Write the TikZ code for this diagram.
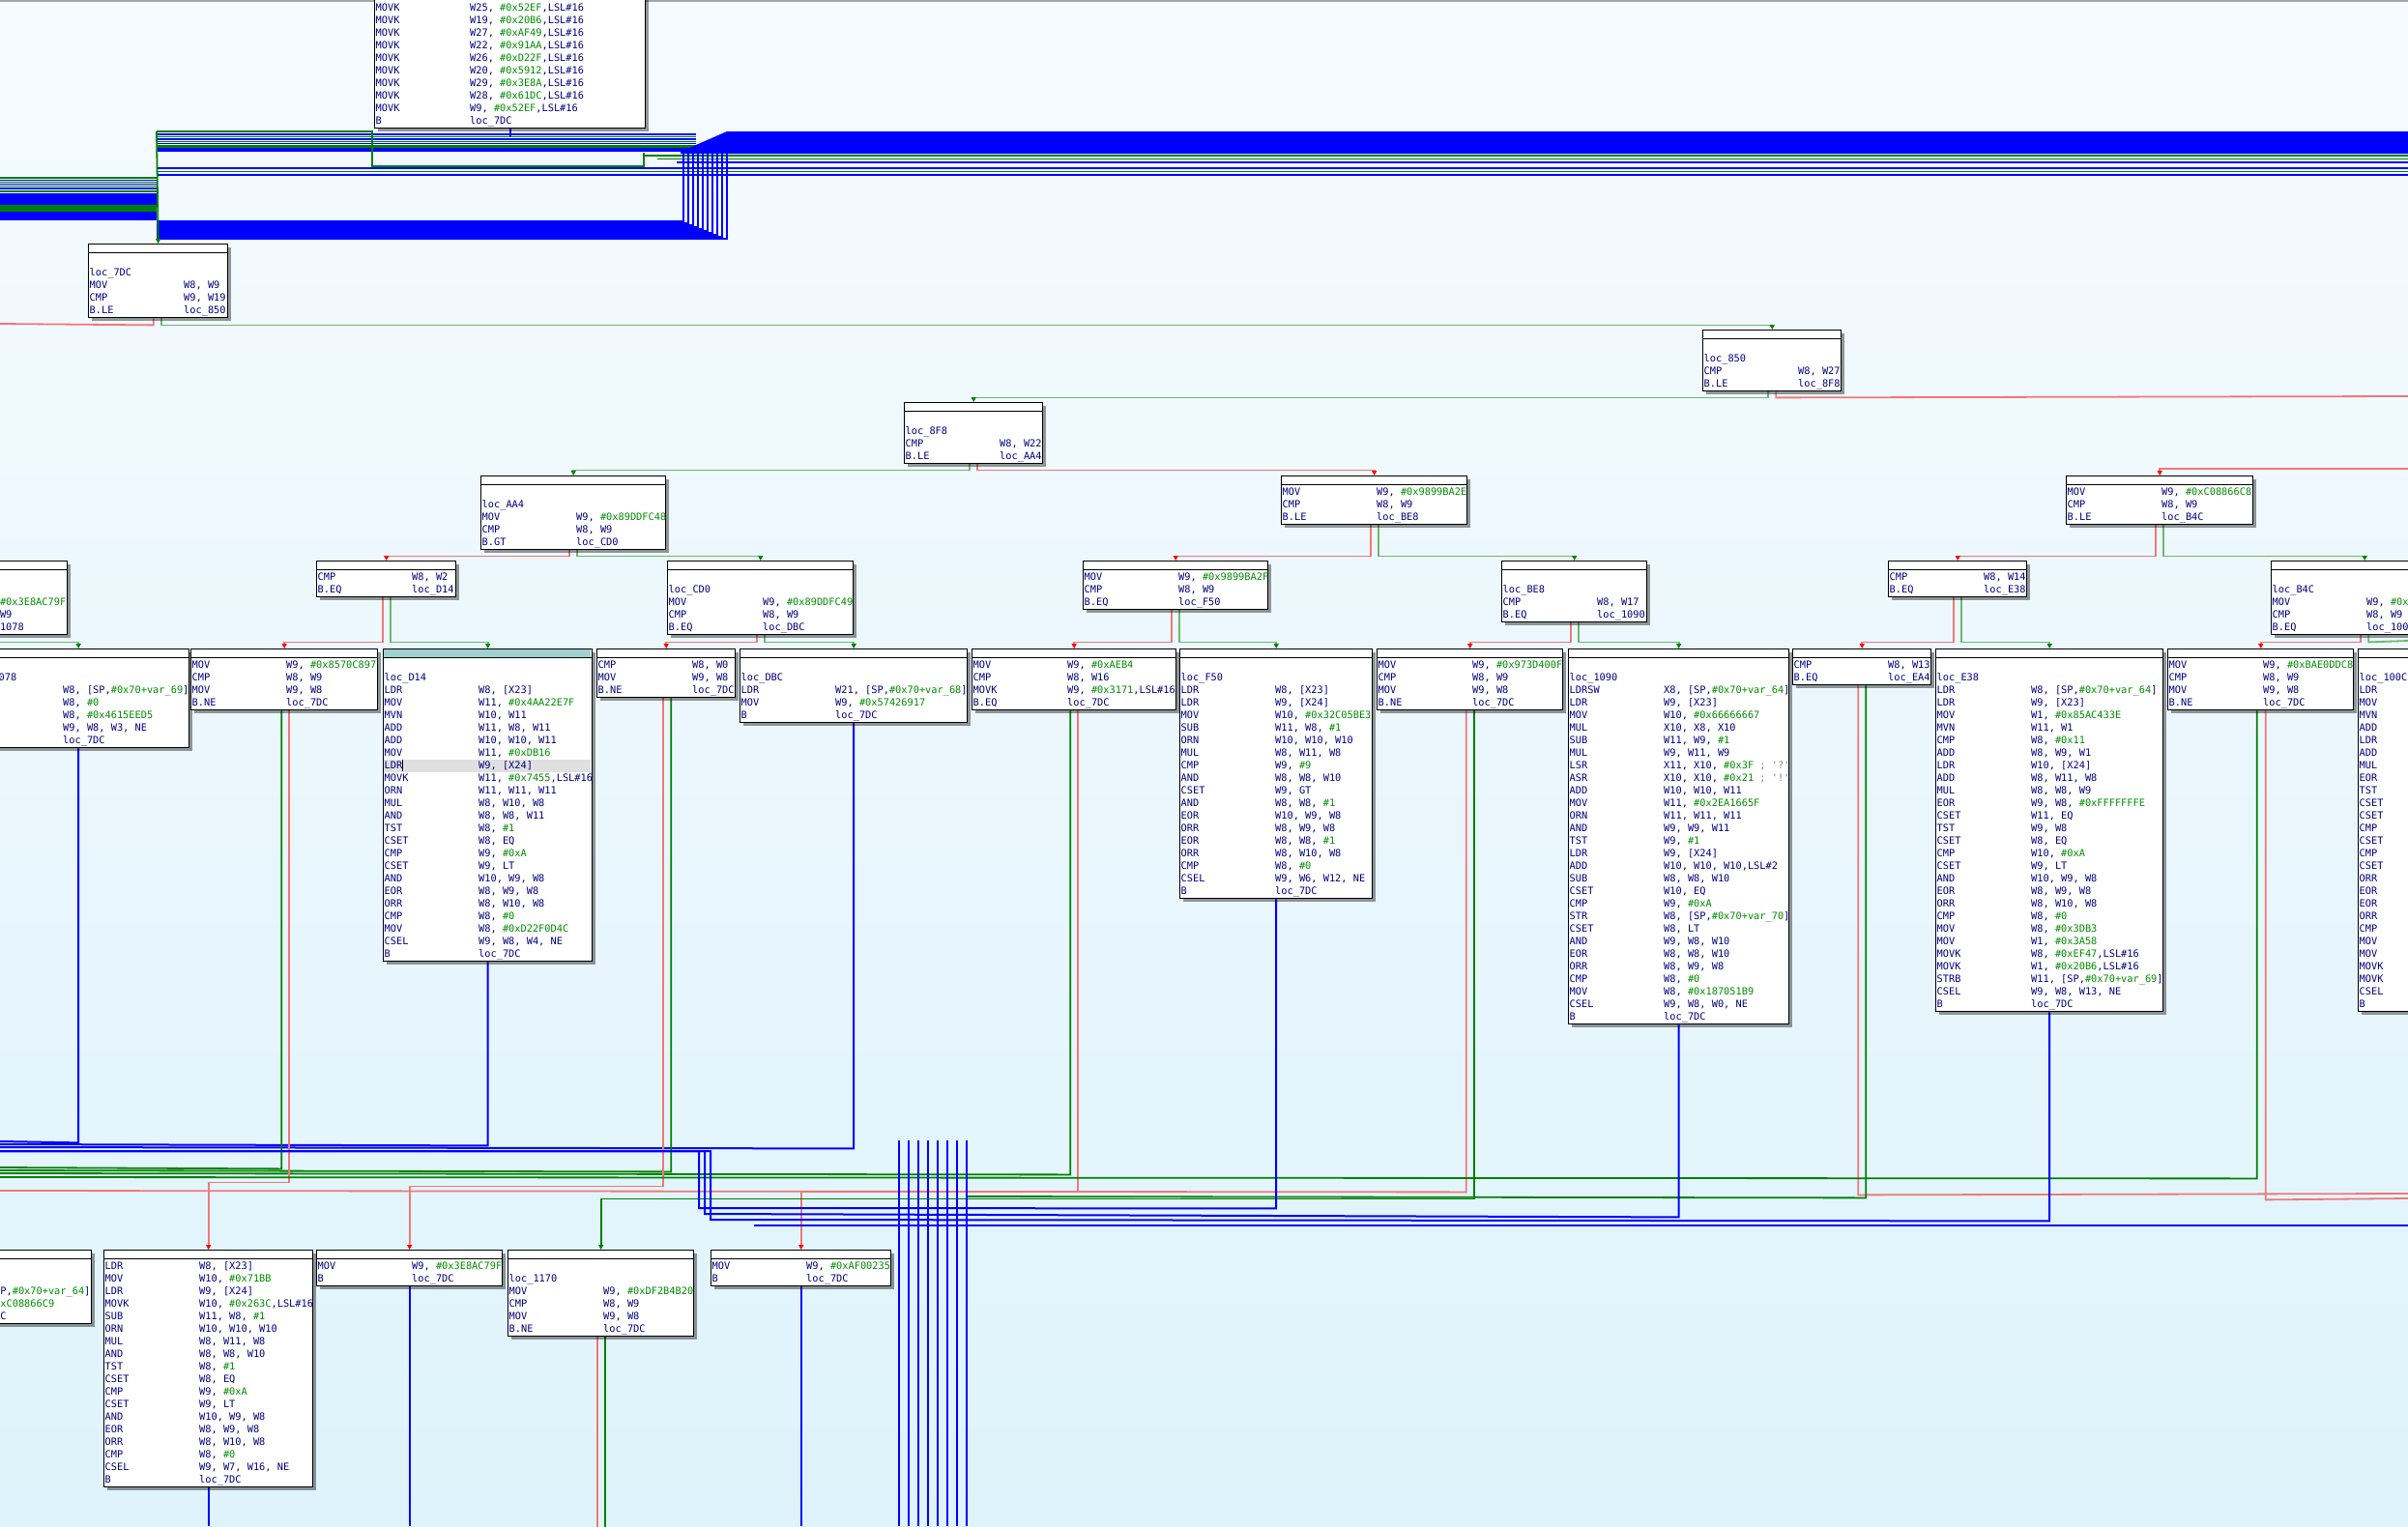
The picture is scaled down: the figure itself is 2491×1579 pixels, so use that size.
\documentclass[tikz,border=0pt]{standalone}
\usepackage{fontspec}
\setmonofont{DejaVu Sans Mono}
\usetikzlibrary{calc,shadows,arrows.meta}
\definecolor{ins}{RGB}{0,0,128}
\definecolor{imm}{RGB}{0,140,0}
\definecolor{cmt}{RGB}{128,128,128}
\definecolor{eR}{RGB}{240,120,120}
\definecolor{eG}{RGB}{0,128,0}
\definecolor{eGl}{RGB}{110,185,110}
\definecolor{eB}{RGB}{0,0,255}
\definecolor{bgTop}{RGB}{246,251,255}
\definecolor{bgBot}{RGB}{222,243,251}
\definecolor{hdrSel}{RGB}{160,208,208}
\newcommand\im[1]{\textcolor{imm}{#1}}
\newcommand\cm[1]{\textcolor{cmt}{#1}}
\newcommand\qq{\char"27\relax}
\pgfdeclarelayer{bglayer}\pgfdeclarelayer{edgelayer}
\pgfsetlayers{bglayer,edgelayer,main}
\tikzset{
 blk/.style={draw=black,line width=1.4pt,fill=white,inner sep=0pt,anchor=north west,
   drop shadow={shadow xshift=3pt,shadow yshift=-3pt,opacity=0.4,fill=black}},
 txt/.style={anchor=north west,inner sep=0pt,text=ins,font=\ttfamily\fontsize{10.3}{13}\selectfont},
 er/.style={draw=eR,line width=1.8pt},
 eg/.style={draw=eG,line width=1.8pt},
 egl/.style={draw=eGl,line width=1.8pt},
 eb/.style={draw=eB,line width=2pt},
 tr/.style={-{Triangle[length=5pt,width=5pt,color=red]}},
 tg/.style={-{Triangle[length=5pt,width=5pt,color=eG]}},
}
% #1 = extra drawing between box and text, #2 name, #3 x, #4 y, #5 width, #6 height, #7 rows
\newcommand\blk[7][]{%
 \node[blk,minimum width=#5pt,minimum height=#6pt] (#2) at (#3,#4) {};
 #1
 \draw[line width=0.8pt] ([yshift=-9pt]#2.north west) -- ([yshift=-9pt]#2.north east);
 \node[txt] (#2t) at ({#3+1.5},{#4+11.5}) {\begin{tabular}{@{}p{97.5pt}@{}l@{}}#7\end{tabular}};
}
\begin{document}
\begin{tikzpicture}[x=1pt,y=-1pt]
\useasboundingbox (0,0) rectangle (2491,1579);
\begin{pgfonlayer}{bglayer}
\shade[top color=bgTop,bottom color=bgBot] (0,0) rectangle (2491,1579);
\draw[gray!70,line width=2pt] (0,1) -- (2491,1);
\end{pgfonlayer}

% ---------------- blocks ----------------
\node[blk,minimum width=280pt,minimum height=232pt] (btop) at (387,-100) {};
\node[txt] (btopt) at (388.5,2.5) {\begin{tabular}{@{}p{97.5pt}@{}l@{}}
MOVK & W25, \im{\#0x52EF},LSL\#16\\ MOVK & W19, \im{\#0x20B6},LSL\#16\\ MOVK & W27, \im{\#0xAF49},LSL\#16\\
MOVK & W22, \im{\#0x91AA},LSL\#16\\ MOVK & W26, \im{\#0xD22F},LSL\#16\\ MOVK & W20, \im{\#0x5912},LSL\#16\\
MOVK & W29, \im{\#0x3E8A},LSL\#16\\ MOVK & W28, \im{\#0x61DC},LSL\#16\\ MOVK & W9, \im{\#0x52EF},LSL\#16\\ B & loc\_7DC
\end{tabular}};

\blk{b7DC}{91}{252}{144}{76}{ & \\ loc\_7DC & \\ MOV & W8, W9\\ CMP & W9, W19\\ B.LE & loc\_850}
\blk{b850}{1761}{341}{143}{63}{ & \\ loc\_850 & \\ CMP & W8, W27\\ B.LE & loc\_8F8}
\blk{b8F8}{935}{416}{143}{63}{ & \\ loc\_8F8 & \\ CMP & W8, W22\\ B.LE & loc\_AA4}
\blk{bAA4}{497}{492}{191}{76}{ & \\ loc\_AA4 & \\ MOV & W9, \im{\#0x89DDFC48}\\ CMP & W8, W9\\ B.GT & loc\_CD0}
\blk{b9899E}{1325}{492}{192}{50}{MOV & W9, \im{\#0x9899BA2E}\\ CMP & W8, W9\\ B.LE & loc\_BE8}
\blk{bC088}{2137}{492}{193}{50}{MOV & W9, \im{\#0xC08866C8}\\ CMP & W8, W9\\ B.LE & loc\_B4C}

\blk{bL3}{-124}{580}{193}{76}{ & \\ & \\ MOV & W9, \im{\#0x3E8AC79F}\\ CMP & W8, W9\\ B.EQ & loc\_1078}
\blk{bCMPW2}{327}{580}{144}{37}{CMP & W8, W2\\ B.EQ & loc\_D14}
\blk{bCD0}{690}{580}{192}{76}{ & \\ loc\_CD0 & \\ MOV & W9, \im{\#0x89DDFC49}\\ CMP & W8, W9\\ B.EQ & loc\_DBC}
\blk{b9899F}{1120}{580}{191}{50}{MOV & W9, \im{\#0x9899BA2F}\\ CMP & W8, W9\\ B.EQ & loc\_F50}
\blk{bBE8}{1553}{580}{150}{63}{ & \\ loc\_BE8 & \\ CMP & W8, W17\\ B.EQ & loc\_1090}
\blk{bCMPW14}{1953}{580}{143}{37}{CMP & W8, W14\\ B.EQ & loc\_E38}
\blk{bB4C}{2349}{580}{193}{76}{ & \\ loc\_B4C & \\ MOV & W9, \im{\#0xC08866C9}\\ CMP & W8, W9\\ B.EQ & loc\_100C}

\blk{b1078}{-34}{671}{229}{102}{ & \\ loc\_1078 & \\ LDRB & W8, [SP,\im{\#0x70+var\_69}]\\ CMP & W8, \im{\#0}\\ MOV & W8, \im{\#0x4615EED5}\\ CSEL & W9, W8, W3, NE\\ B & loc\_7DC}
\blk{b8570}{197}{671}{193}{63}{MOV & W9, \im{\#0x8570C897}\\ CMP & W8, W9\\ MOV & W9, W8\\ B.NE & loc\_7DC}
\blk[{\fill[hdrSel] (397.2,672) rectangle (610.8,679.5);
  \fill[black!12] (397,785.5) rectangle (611,798.5);
  \draw[black,line width=1pt] (416,786) -- (416,798);}]{bD14}{396}{671}{216}{323}{ & \\ loc\_D14 & \\ LDR & W8, [X23]\\ MOV & W11, \im{\#0x4AA22E7F}\\ MVN & W10, W11\\ ADD & W11, W8, W11\\ ADD & W10, W10, W11\\ MOV & W11, \im{\#0xDB16}\\ LDR & W9, [X24]\\ MOVK & W11, \im{\#0x7455},LSL\#16\\ ORN & W11, W11, W11\\ MUL & W8, W10, W8\\ AND & W8, W8, W11\\ TST & W8, \im{\#1}\\ CSET & W8, EQ\\ CMP & W9, \im{\#0xA}\\ CSET & W9, LT\\ AND & W10, W9, W8\\ EOR & W8, W9, W8\\ ORR & W8, W10, W8\\ CMP & W8, \im{\#0}\\ MOV & W8, \im{\#0xD22F0D4C}\\ CSEL & W9, W8, W4, NE\\ B & loc\_7DC}
\blk{bCMPW0}{617}{671}{143}{50}{CMP & W8, W0\\ MOV & W9, W8\\ B.NE & loc\_7DC}
\blk{bDBC}{765}{671}{235}{76}{ & \\ loc\_DBC & \\ LDR & W21, [SP,\im{\#0x70+var\_68}]\\ MOV & W9, \im{\#0x57426917}\\ B & loc\_7DC}
\blk{bAEB4}{1005}{671}{211}{63}{MOV & W9, \im{\#0xAEB4}\\ CMP & W8, W16\\ MOVK & W9, \im{\#0x3171},LSL\#16\\ B.EQ & loc\_7DC}
\blk{bF50}{1220}{671}{199}{258}{ & \\ loc\_F50 & \\ LDR & W8, [X23]\\ LDR & W9, [X24]\\ MOV & W10, \im{\#0x32C05BE3}\\ SUB & W11, W8, \im{\#1}\\ ORN & W10, W10, W10\\ MUL & W8, W11, W8\\ CMP & W9, \im{\#9}\\ AND & W8, W8, W10\\ CSET & W9, GT\\ AND & W8, W8, \im{\#1}\\ EOR & W10, W9, W8\\ ORR & W8, W9, W8\\ EOR & W8, W8, \im{\#1}\\ ORR & W8, W10, W8\\ CMP & W8, \im{\#0}\\ CSEL & W9, W6, W12, NE\\ B & loc\_7DC}
\blk{b973D}{1424}{671}{192}{63}{MOV & W9, \im{\#0x973D400F}\\ CMP & W8, W9\\ MOV & W9, W8\\ B.NE & loc\_7DC}
\blk{b1090}{1622}{671}{228}{388}{ & \\ loc\_1090 & \\ LDRSW & X8, [SP,\im{\#0x70+var\_64}]\\ LDR & W9, [X23]\\ MOV & W10, \im{\#0x66666667}\\ MUL & X10, X8, X10\\ SUB & W11, W9, \im{\#1}\\ MUL & W9, W11, W9\\ LSR & X11, X10, \im{\#0x3F} \cm{; \qq?\qq}\\ ASR & X10, X10, \im{\#0x21} \cm{; \qq!\qq}\\ ADD & W10, W10, W11\\ MOV & W11, \im{\#0x2EA1665F}\\ ORN & W11, W11, W11\\ AND & W9, W9, W11\\ TST & W9, \im{\#1}\\ LDR & W9, [X24]\\ ADD & W10, W10, W10,LSL\#2\\ SUB & W8, W8, W10\\ CSET & W10, EQ\\ CMP & W9, \im{\#0xA}\\ STR & W8, [SP,\im{\#0x70+var\_70}]\\ CSET & W8, LT\\ AND & W9, W8, W10\\ EOR & W8, W8, W10\\ ORR & W8, W9, W8\\ CMP & W8, \im{\#0}\\ MOV & W8, \im{\#0x187051B9}\\ CSEL & W9, W8, W0, NE\\ B & loc\_7DC}
\blk{bCMPW13}{1854}{671}{143}{37}{CMP & W8, W13\\ B.EQ & loc\_EA4}
\blk{bE38}{2002}{671}{235}{375}{ & \\ loc\_E38 & \\ LDR & W8, [SP,\im{\#0x70+var\_64}]\\ LDR & W9, [X23]\\ MOV & W1, \im{\#0x85AC433E}\\ MVN & W11, W1\\ CMP & W8, \im{\#0x11}\\ ADD & W8, W9, W1\\ LDR & W10, [X24]\\ ADD & W8, W11, W8\\ MUL & W8, W8, W9\\ EOR & W9, W8, \im{\#0xFFFFFFFE}\\ CSET & W11, EQ\\ TST & W9, W8\\ CSET & W8, EQ\\ CMP & W10, \im{\#0xA}\\ CSET & W9, LT\\ AND & W10, W9, W8\\ EOR & W8, W9, W8\\ ORR & W8, W10, W8\\ CMP & W8, \im{\#0}\\ MOV & W8, \im{\#0x3DB3}\\ MOV & W1, \im{\#0x3A58}\\ MOVK & W8, \im{\#0xEF47},LSL\#16\\ MOVK & W1, \im{\#0x20B6},LSL\#16\\ STRB & W11, [SP,\im{\#0x70+var\_69}]\\ CSEL & W9, W8, W13, NE\\ B & loc\_7DC}
\blk{bBAE0}{2242}{671}{192}{63}{MOV & W9, \im{\#0xBAE0DDC8}\\ CMP & W8, W9\\ MOV & W9, W8\\ B.NE & loc\_7DC}
\blk{b100C}{2439}{671}{235}{375}{ & \\ loc\_100C & \\ LDR & \\ MOV & \\ MVN & \\ ADD & \\ LDR & \\ ADD & \\ MUL & \\ EOR & \\ TST & \\ CSET & \\ CSET & \\ CMP & \\ CSET & \\ CMP & \\ CSET & \\ ORR & \\ EOR & \\ EOR & \\ ORR & \\ CMP & \\ MOV & \\ MOV & \\ MOVK & \\ MOVK & \\ CSEL & \\ B & }

\blk{bL5}{-136}{1293}{230}{76}{ & \\ & \\ LDR & W8, [SP,\im{\#0x70+var\_64}]\\ MOV & W9, \im{\#0xC08866C9}\\ B & loc\_7DC}
\blk{bLDR5}{107}{1293}{216}{245}{LDR & W8, [X23]\\ MOV & W10, \im{\#0x71BB}\\ LDR & W9, [X24]\\ MOVK & W10, \im{\#0x263C},LSL\#16\\ SUB & W11, W8, \im{\#1}\\ ORN & W10, W10, W10\\ MUL & W8, W11, W8\\ AND & W8, W8, W10\\ TST & W8, \im{\#1}\\ CSET & W8, EQ\\ CMP & W9, \im{\#0xA}\\ CSET & W9, LT\\ AND & W10, W9, W8\\ EOR & W8, W9, W8\\ ORR & W8, W10, W8\\ CMP & W8, \im{\#0}\\ CSEL & W9, W7, W16, NE\\ B & loc\_7DC}
\blk{b3E8A}{327}{1293}{192}{37}{MOV & W9, \im{\#0x3E8AC79F}\\ B & loc\_7DC}
\blk{b1170}{525}{1293}{192}{89}{ & \\ loc\_1170 & \\ MOV & W9, \im{\#0xDF2B4B20}\\ CMP & W8, W9\\ MOV & W9, W8\\ B.NE & loc\_7DC}
\blk{bAF00}{735}{1293}{186}{37}{MOV & W9, \im{\#0xAF00235}\\ B & loc\_7DC}

% ---------------- edges ----------------
\begin{pgfonlayer}{edgelayer}
% top bundle
\draw[eb] (btop.south) -- ++(0,8);
\foreach \y/\c/\w in {139/eB/1.6, 141.5/eG/1.6, 144/eB/1.6, 146.3/eG/1.6, 148.5/eB/1.6, 151.5/eG/3.5, 155/eB/4}
  \draw[draw=\c,line width=\w pt] (162,\y) -- (720,\y);
\fill[eB] (704,159) -- (704,157) -- (752,136) -- (2491,136) -- (2491,159) -- cycle;
\draw[eg] (162,136) -- (385,136) -- (385,172) -- (666,172) -- (666,158);
\draw[eg] (666,161) -- (2491,161);
\draw[eg] (680,164.5) -- (2491,164.5);
\draw[eb,line width=1.6pt] (700,168) -- (2491,168);
\draw[eb,line width=1.6pt] (162,174) -- (2491,174);
\draw[eg,line width=1.6pt] (162,177.5) -- (2491,177.5);
\draw[eb,line width=1.6pt] (162,181) -- (2491,181);
\foreach \i in {0,...,9}
  \draw[eB,line width=2.1pt] (162,{229+2*\i}) -- ({707+5*\i},{229+2*\i}) -- ({707+5*\i},159);
\foreach \y/\c/\w in {184/eG/2, 186.5/eB/1.5, 188.5/eG/1.5, 190.5/eB/1.5, 192.5/eG/1.5, 195/eB/2, 198/eG/2.5, 206/eB/12, 215.5/eG/7, 223.5/eB/9}
  \draw[draw=\c,line width=\w pt] (0,\y) -- (162,\y);
\draw[eg,tg] (162,136) -- (b7DC.north);
% level 1
\draw[er] ([xshift=-5pt]b7DC.south) -- ++(0,7) -- (0,335);
\draw[egl,tg] ([xshift=3pt]b7DC.south) -- ++(0,7) -| (b850.north);
\draw[egl,tg] ([xshift=-4pt]b850.south) -- ++(0,6) -| (b8F8.north);
\draw[er] ([xshift=4pt]b850.south) -- ++(0,6) -- (2491,410);
\draw[egl,tg] ([xshift=-4pt]b8F8.south) -- ++(0,6) -| (bAA4.north);
\draw[er,tr] ([xshift=4pt]b8F8.south) -- ++(0,6) -| (b9899E.north);
\draw[er,tr] (2491,485) -| (bC088.north);
% level 2
\draw[er,tr] ([xshift=-4pt]bAA4.south) -- ++(0,6) -| (bCMPW2.north);
\draw[egl,tg] ([xshift=4pt]bAA4.south) -- ++(0,6) -| (bCD0.north);
\draw[er,tr] ([xshift=-4pt]b9899E.south) -- ++(0,32) -| (b9899F.north);
\draw[egl,tg] ([xshift=4pt]b9899E.south) -- ++(0,32) -| (bBE8.north);
\draw[er,tr] ([xshift=-4pt]bC088.south) -- ++(0,32) -| (bCMPW14.north);
\draw[egl,tg] ([xshift=4pt]bC088.south) -- ++(0,32) -| (bB4C.north);
% level 3
\draw[egl,tg] ([xshift=4pt]bL3.south) -- ++(0,7) -| (b1078.north);
\draw[er,tr] ([xshift=-4pt]bCMPW2.south) -- ++(0,46) -| (b8570.north);
\draw[egl,tg] ([xshift=4pt]bCMPW2.south) -- ++(0,46) -| (bD14.north);
\draw[er,tr] ([xshift=-4pt]bCD0.south) -- ++(0,7) -| (bCMPW0.north);
\draw[egl,tg] ([xshift=4pt]bCD0.south) -- ++(0,7) -| (bDBC.north);
\draw[er,tr] ([xshift=-4pt]b9899F.south) -- ++(0,33) -| (bAEB4.north);
\draw[egl,tg] ([xshift=4pt]b9899F.south) -- ++(0,33) -| (bF50.north);
\draw[er,tr] ([xshift=-4pt]bBE8.south) -- ++(0,20) -| (b973D.north);
\draw[egl,tg] ([xshift=4pt]bBE8.south) -- ++(0,20) -| (b1090.north);
\draw[er,tr] ([xshift=-4pt]bCMPW14.south) -- ++(0,46) -| (bCMPW13.north);
\draw[egl,tg] ([xshift=4pt]bCMPW14.south) -- ++(0,46) -| (bE38.north);
\draw[er,tr] ([xshift=-4pt]bB4C.south) -- ++(0,7) -| (bBAE0.north);
\draw[egl] ([xshift=4pt]bB4C.south) -- ++(0,7) -- (2491,663);
% level 4 -> routing
\draw[eb] (b1078.south) -- ++(0,408) -- (0,1181);
\draw[eb] (bD14.south) -- ++(0,190) -- (0,1184);
\draw[eb] (bDBC.south) -- ++(0,440) -- (0,1187);
\draw[eg] ([xshift=-3pt]b8570.south) -- ++(0,474) -- (0,1208);
\draw[eg] ([xshift=5pt]bCMPW0.south) -- ++(0,490) -- (0,1211);
\draw[eg] ([xshift=-4pt]bAEB4.south) -- ++(0,480) -- (0,1214);
\draw[er,tr] ([xshift=5pt]b8570.south) -- ++(0,488) -| (bLDR5.north);
\draw[er,tr] ([xshift=-3pt]bCMPW0.south) -- ++(0,505) -| (b3E8A.north);
\draw[er,tr] ([xshift=4pt]bAEB4.south) -- ++(0,498) -| (bAF00.north);
\draw[er] ([xshift=-4pt]b973D.south) -- ++(0,498) -- (0,1232);
\draw[eg,tg] ([xshift=4pt]b973D.south) -- ++(0,505) -| (b1170.north);
\draw[er] ([xshift=-4pt]bCMPW13.south) -- ++(0,527) -- (2491,1235);
\draw[eg] ([xshift=4pt]bCMPW13.south) -- ++(0,530) -- (1000,1238);
\draw[eg] ([xshift=-4pt]bBAE0.south) -- ++(0,484) -- (0,1218);
\draw[er] ([xshift=5pt]bBAE0.south) -- ++(0,506) -- (2491,1240);
\foreach \s/\d/\i in {bF50/320/0, b1090/197/1, bE38/212/2}
  \draw[eb] (\s.south) -- ++(0,\d+2*\i) -- ({723+6*\i},{1250+6*\i}) -- ({723+6*\i},1191) -- (0,1191);
\foreach \i in {0,...,7}
  \draw[eb] ({930+10*\i},1180) -- ({930+10*\i},1579);
\draw[eb] (2491,1268) -- (780,1268);
% bottom
\draw[eb] (bLDR5.south) -- (bLDR5.south |- 0,1579);
\draw[eb] (b3E8A.south) -- (b3E8A.south |- 0,1579);
\draw[eb] (bAF00.south) -- (bAF00.south |- 0,1579);
\draw[er] ([xshift=-4pt]b1170.south) -- ++(0,200);
\draw[eg] ([xshift=4pt]b1170.south) -- ++(0,200);
\end{pgfonlayer}
\end{tikzpicture}
\end{document}
